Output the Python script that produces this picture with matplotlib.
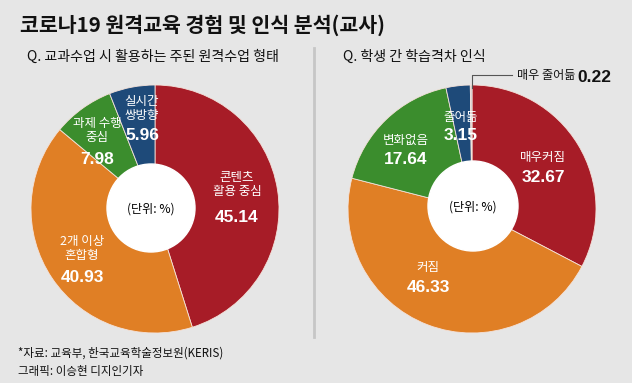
import numpy as np
import matplotlib
matplotlib.use("Agg")
import matplotlib.pyplot as plt
from matplotlib.patches import Circle

plt.rcParams['font.family'] = ['Noto Sans CJK KR', 'DejaVu Sans']

#
# 데이터
#
left_labels = ['콘텐츠\n활용 중심', '2개 이상\n혼합형', '과제 수행\n중심', '실시간\n쌍방향']
left_values = [45.14, 40.93, 7.98, 5.96]
right_labels = ['매우커짐', '커짐', '변화없음', '줄어듦', '매우 줄어듦']
right_values = [32.67, 46.33, 17.64, 3.15, 0.22]

title = '코로나19 원격교육 경험 및 인식 분석(교사)'
sub_left = 'Q. 교과수업 시 활용하는 주된 원격수업 형태'
sub_right = 'Q. 학생 간 학습격차 인식'
source1 = '*자료: 교육부, 한국교육학술정보원(KERIS)'
source2 = '그래픽: 이승현 디지인기자'

#
# 스타일
#
BG = '#e6e6e6'
RED, ORANGE, GREEN, BLUE, GRAY = '#a71c27', '#e07f25', '#3b8d2d', '#1e4a79', '#c3c8cd'
W, H = 632, 383

def Y(y):
    # 픽셀 좌표(위에서 아래) -> 데이터 좌표
    return H - y

fig = plt.figure(figsize=(W / 100, H / 100), dpi=100, facecolor=BG)
ax = fig.add_axes([0, 0, 1, 1])
ax.set_facecolor(BG)

R = 124
lc = (155, Y(209))
rc = (472, Y(209))

ax.pie(left_values, colors=[RED, ORANGE, GREEN, BLUE], startangle=90,
       counterclock=False, center=lc, radius=R, frame=True,
       wedgeprops=dict(edgecolor='#f4e2da', linewidth=0.6))
ax.pie(right_values, colors=[RED, ORANGE, GREEN, BLUE, GRAY], startangle=90,
       counterclock=False, center=rc, radius=R, frame=True,
       wedgeprops=dict(edgecolor='#f4e2da', linewidth=0.6))

# 가운데 흰 원
ax.add_patch(Circle((151, Y(208)), 44, color='white', zorder=5))
ax.add_patch(Circle((473, Y(206)), 45, color='white', zorder=5))
ax.text(151, Y(209), '(단위: %)', ha='center', va='center', fontsize=8.7, zorder=6)
ax.text(473, Y(207), '(단위: %)', ha='center', va='center', fontsize=8.7, zorder=6)

ax.set_xlim(0, W)
ax.set_ylim(0, H)
ax.axis('off')

# 라벨 위치 (픽셀)
left_pos = [(237, 184, 217), (82, 249, 277), (97, 131, 160), (142, 109, 135)]
right_pos = [(543, 158, 178), (428, 268, 287), (406, 140, 159), (461, 117, 135)]

for lab, val, (x, yl, yv) in zip(left_labels, left_values, left_pos):
    ax.text(x, Y(yl), lab, ha='center', va='center', color='white',
            fontsize=9, linespacing=1.1, zorder=6)
    ax.text(x, Y(yv), f'{val:.2f}', ha='center', va='center', color='white',
            fontsize=12.5, fontweight='bold', zorder=6,
            family=['Liberation Sans', 'DejaVu Sans'])

for lab, val, (x, yl, yv) in zip(right_labels[:4], right_values[:4], right_pos):
    ax.text(x, Y(yl), lab, ha='center', va='center', color='white',
            fontsize=9, zorder=6)
    ax.text(x, Y(yv), f'{val:.2f}', ha='center', va='center', color='white',
            fontsize=12.5, fontweight='bold', zorder=6,
            family=['Liberation Sans', 'DejaVu Sans'])

# 매우 줄어듦 지시선
ax.plot([472, 472, 512], [Y(88), Y(75), Y(75)], color='#555555', lw=0.8, zorder=6)
ax.text(517, Y(76), right_labels[4], ha='left', va='center', fontsize=8.7, color='#111111')
ax.text(577, Y(77), f'{right_values[4]:.2f}', ha='left', va='center', fontsize=12.5,
        fontweight='bold', color='#111111', family=['Liberation Sans', 'DejaVu Sans'])

# 구분선
ax.plot([314, 314], [Y(48), Y(337)], color='#c6c6c6', lw=2)

# 제목, 부제, 출처
ax.text(20, Y(25), title, ha='left', va='center', fontsize=14.8, fontweight='bold', color='#111111')
ax.text(27, Y(57), sub_left, ha='left', va='center', fontsize=10.1, color='#111111')
ax.text(343, Y(57), sub_right, ha='left', va='center', fontsize=10.1, color='#111111')
ax.text(18, Y(353), source1, ha='left', va='center', fontsize=8.3, color='#111111')
ax.text(18, Y(372), source2, ha='left', va='center', fontsize=8.3, color='#111111')

fig.savefig('out.png', dpi=100, facecolor=BG)
